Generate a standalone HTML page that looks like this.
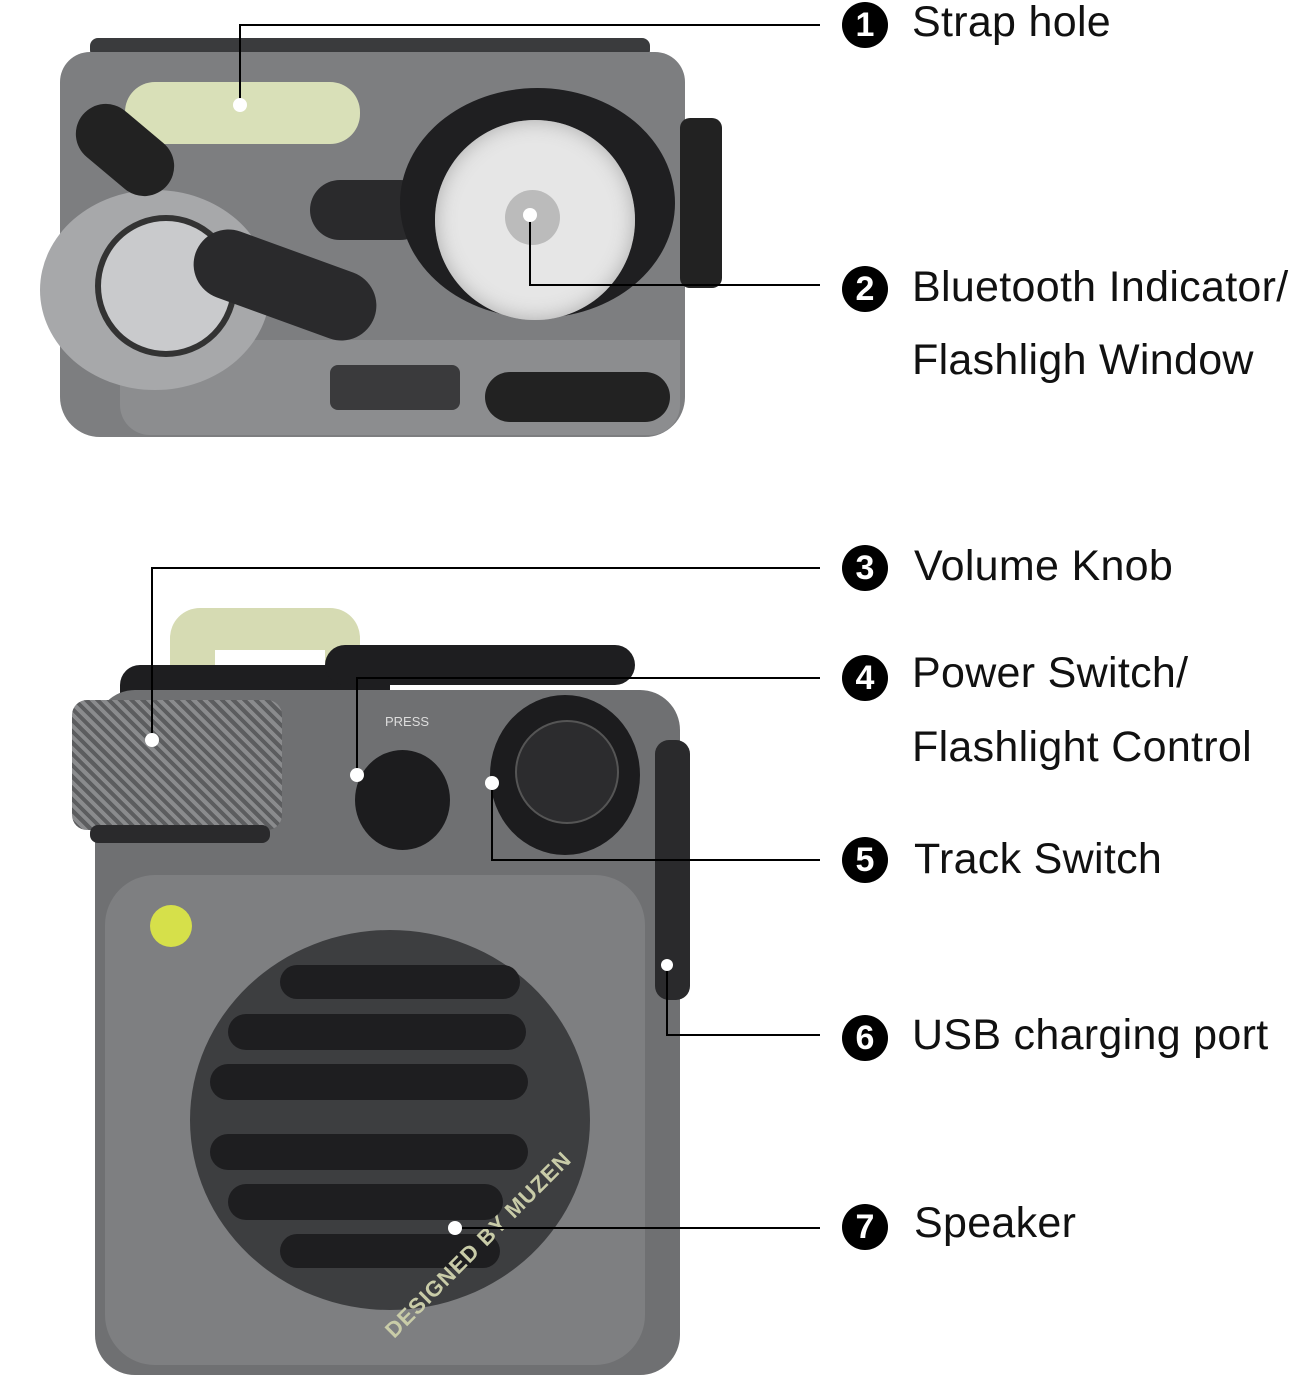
<!DOCTYPE html>
<html><head><meta charset="utf-8"><style>
body{margin:0;width:1296px;height:1383px;background:#fff;position:relative;overflow:hidden;font-family:"Liberation Sans","DejaVu Sans",sans-serif}
.a{position:absolute}
.n{position:absolute;width:46px;height:46px;border-radius:50%;background:#000;color:#fff;font-weight:bold;font-size:34px;text-align:center;line-height:46px}
.t{position:absolute;font-size:43px;color:#111;white-space:nowrap;letter-spacing:0.3px}
</style></head><body>
<!-- top device -->
<div class="a" style="left:90px;top:38px;width:560px;height:20px;background:#3a3b3d;border-radius:8px"></div>
<div class="a" style="left:60px;top:52px;width:625px;height:385px;background:#7d7e80;border-radius:30px 30px 40px 40px"></div>
<div class="a" style="left:120px;top:340px;width:560px;height:95px;background:#8c8d8f;border-radius:0 0 30px 30px"></div>
<div class="a" style="left:125px;top:82px;width:235px;height:62px;background:#d9e0b8;border-radius:30px"></div>
<div class="a" style="left:40px;top:190px;width:230px;height:200px;background:#a7a8aa;border-radius:50%"></div>
<div class="a" style="left:95px;top:215px;width:130px;height:130px;background:#c9cacc;border-radius:50%;border:6px solid #333"></div>
<div class="a" style="left:70px;top:120px;width:110px;height:60px;background:#222;border-radius:30px;transform:rotate(40deg)"></div>
<div class="a" style="left:190px;top:250px;width:190px;height:70px;background:#2a2a2c;border-radius:35px;transform:rotate(20deg)"></div>
<div class="a" style="left:310px;top:180px;width:120px;height:60px;background:#2a2a2c;border-radius:30px"></div>
<div class="a" style="left:400px;top:88px;width:275px;height:230px;background:#1f1f21;border-radius:50%"></div>
<div class="a" style="left:435px;top:120px;width:200px;height:200px;background:#e6e6e6;border-radius:50%;box-shadow:inset 0 0 20px #aaa"></div>
<div class="a" style="left:505px;top:190px;width:55px;height:55px;background:#bbb;border-radius:50%"></div>
<div class="a" style="left:680px;top:118px;width:42px;height:170px;background:#222;border-radius:10px"></div>
<div class="a" style="left:485px;top:372px;width:185px;height:50px;background:#222;border-radius:25px"></div>
<div class="a" style="left:330px;top:365px;width:130px;height:45px;background:#3a3a3c;border-radius:8px"></div>
<!-- bottom device -->
<div class="a" style="left:170px;top:608px;width:190px;height:90px;background:#d6dbb3;border-radius:30px 30px 0 0"></div>
<div class="a" style="left:215px;top:650px;width:110px;height:50px;background:#fff"></div>
<div class="a" style="left:120px;top:665px;width:270px;height:50px;background:#1e1e20;border-radius:20px"></div>
<div class="a" style="left:325px;top:645px;width:310px;height:40px;background:#1e1e20;border-radius:20px"></div>
<div class="a" style="left:95px;top:690px;width:585px;height:685px;background:#6f7072;border-radius:40px"></div>
<div class="a" style="left:72px;top:700px;width:210px;height:130px;background:repeating-linear-gradient(45deg,#8a8b8d 0 4px,#5c5d5f 4px 8px);border-radius:15px"></div>
<div class="a" style="left:90px;top:825px;width:180px;height:18px;background:#2a2a2c;border-radius:8px"></div>
<div class="a" style="left:355px;top:750px;width:95px;height:100px;background:#1c1c1e;border-radius:50%"></div>
<div class="a" style="left:490px;top:695px;width:150px;height:160px;background:#1c1c1e;border-radius:50%"></div>
<div class="a" style="left:515px;top:720px;width:100px;height:100px;background:#2c2c2e;border-radius:50%;border:2px solid #555"></div>
<div class="a" style="left:655px;top:740px;width:35px;height:260px;background:#2a2a2c;border-radius:14px"></div>
<div class="a" style="left:105px;top:875px;width:540px;height:490px;background:#7e7f81;border-radius:50px"></div>
<div class="a" style="left:150px;top:905px;width:42px;height:42px;background:#d6e04a;border-radius:50%"></div>
<div class="a" style="left:190px;top:930px;width:400px;height:380px;background:#3d3e40;border-radius:50%"></div>
<div class="a" style="left:280px;top:965px;width:240px;height:34px;background:#1e1e20;border-radius:17px"></div>
<div class="a" style="left:228px;top:1014px;width:298px;height:36px;background:#1e1e20;border-radius:18px"></div>
<div class="a" style="left:210px;top:1064px;width:318px;height:36px;background:#1e1e20;border-radius:18px"></div>
<div class="a" style="left:210px;top:1134px;width:318px;height:36px;background:#1e1e20;border-radius:18px"></div>
<div class="a" style="left:228px;top:1184px;width:275px;height:36px;background:#1e1e20;border-radius:18px"></div>
<div class="a" style="left:280px;top:1234px;width:220px;height:34px;background:#1e1e20;border-radius:17px"></div>
<div class="a" style="left:380px;font-size:22px;font-weight:bold;color:#c9cca8;transform:rotate(-45deg);transform-origin:0 0;top:1325px;letter-spacing:1px">DESIGNED BY MUZEN</div>
<div class="a" style="left:385px;top:714px;font-size:13px;color:#ddd">PRESS</div>
<!-- lines -->
<svg class="a" style="left:0;top:0" width="1296" height="1383">
<g stroke="#000" stroke-width="2" fill="none">
<polyline points="240,105 240,25 820,25"/>
<polyline points="530,215 530,285 820,285"/>
<polyline points="152,740 152,568 820,568"/>
<polyline points="357,775 357,678 820,678"/>
<polyline points="492,783 492,860 820,860"/>
<polyline points="667,965 667,1035 820,1035"/>
<polyline points="455,1228 820,1228"/>
</g>
<g fill="#fff"><circle cx="240" cy="105" r="7"/><circle cx="530" cy="215" r="7"/><circle cx="152" cy="740" r="7"/><circle cx="357" cy="775" r="7"/><circle cx="492" cy="783" r="7"/><circle cx="667" cy="965" r="6"/><circle cx="455" cy="1228" r="7"/></g>
</svg>
<div class="n" style="left:842px;top:2px">1</div><div class="t" style="left:912px;top:-2px">Strap hole</div>
<div class="n" style="left:842px;top:266px">2</div><div class="t" style="left:912px;top:263px">Bluetooth Indicator/</div><div class="t" style="left:912px;top:336px">Flashligh Window</div>
<div class="n" style="left:842px;top:545px">3</div><div class="t" style="left:914px;top:542px">Volume Knob</div>
<div class="n" style="left:842px;top:655px">4</div><div class="t" style="left:912px;top:649px">Power Switch/</div><div class="t" style="left:912px;top:723px">Flashlight Control</div>
<div class="n" style="left:842px;top:837px">5</div><div class="t" style="left:914px;top:835px">Track Switch</div>
<div class="n" style="left:842px;top:1015px">6</div><div class="t" style="left:912px;top:1011px">USB charging port</div>
<div class="n" style="left:842px;top:1204px">7</div><div class="t" style="left:914px;top:1199px">Speaker</div>
</body></html>
